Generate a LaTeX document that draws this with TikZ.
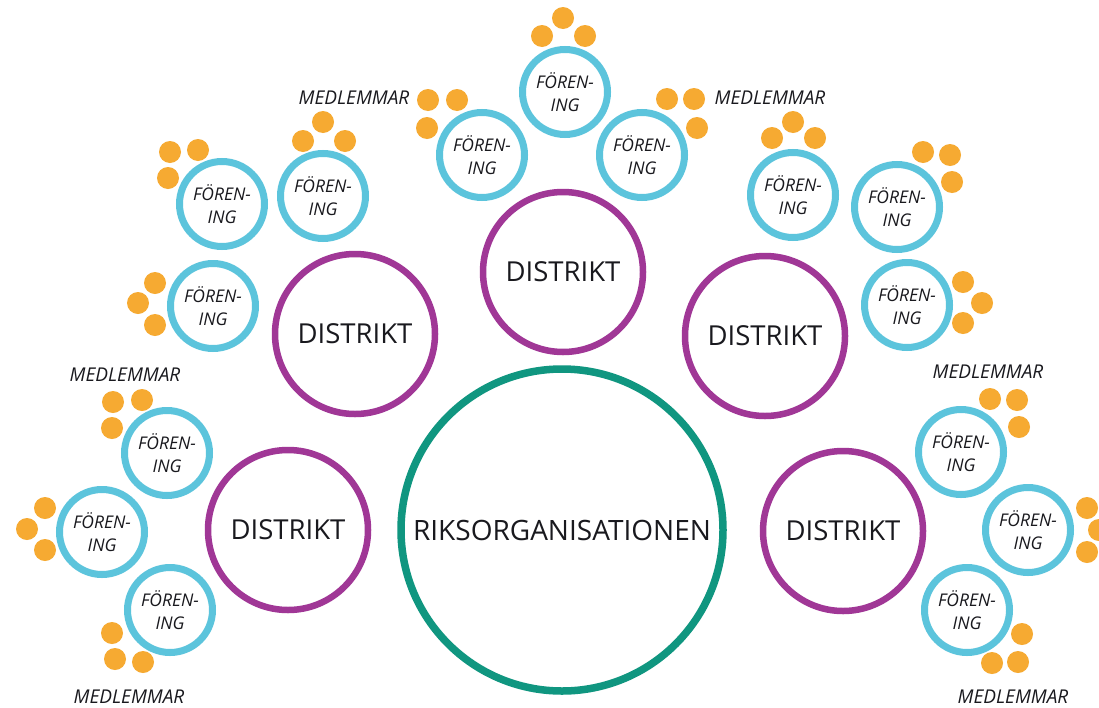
\documentclass[tikz,border=0pt]{standalone}
\usepackage{fontspec}
\setmainfont{Open Sans}
\definecolor{riksgreen}{RGB}{16,150,128}
\definecolor{distpurple}{RGB}{160,55,150}
\definecolor{forcyan}{RGB}{92,196,220}
\definecolor{memorange}{RGB}{246,170,50}
\definecolor{txt}{RGB}{25,25,30}
\tikzset{
  riks/.style={circle,draw=riksgreen,line width=7.5pt,minimum size=322pt,inner sep=0pt,text=txt,font=\fontsize{28}{30}\selectfont},
  dist/.style={circle,draw=distpurple,line width=6.5pt,minimum size=160pt,inner sep=0pt,text=txt,font=\fontsize{27.5}{30}\selectfont},
  fbox/.style={circle,draw=forcyan,line width=7pt,minimum size=85pt,inner sep=0pt,text=txt,align=center,font=\fontsize{17.5}{23}\selectfont\itshape},
  mdot/.style={circle,fill=memorange,minimum size=22pt,inner sep=0pt},
  mlabel/.style={text=txt,inner sep=0pt,font=\fontsize{19}{22}\selectfont\itshape}
}
\begin{document}
\begin{tikzpicture}[x=1pt,y=-1pt]
\useasboundingbox[fill=white] (0,0) rectangle (1099,707);
% national organisation
\node[riks] (riks) at (562,530) {RIKSORGANISATIONEN};
% districts
\node[dist] (d1) at (288,530) {DISTRIKT};
\node[dist] (d2) at (355,334) {DISTRIKT};
\node[dist] (d3) at (563,272) {DISTRIKT};
\node[dist] (d4) at (765,336) {DISTRIKT};
\node[dist] (d5) at (843,531) {DISTRIKT};
% associations
\newcommand{\forening}[2]{\node[fbox] (#1) at (#2) {FÖREN-\\ING};}
\forening{f1}{167,453}
\forening{f2}{102,532}
\forening{f3}{170,610}
\forening{f4}{213,306}
\forening{f5}{222,204}
\forening{f6}{323,196}
\forening{f7}{482,155}
\forening{f8}{565,92}
\forening{f9}{642,155}
\forening{f10}{793,195}
\forening{f11}{897,207}
\forening{f12}{907,305}
\forening{f13}{961,452}
\forening{f14}{1028,530}
\forening{f15}{967,610}
% members
\newcommand{\mdots}[4]{\node[mdot] (#1a) at (#2) {};\node[mdot] (#1b) at (#3) {};\node[mdot] (#1c) at (#4) {};}
\mdots{m1}{113,402}{142,400}{112,428}
\mdots{m2}{45,508}{27,529}{45,550}
\mdots{m3}{112,633}{115,659}{143,662}
\mdots{m4}{155,283}{138,303}{155,325}
\mdots{m5}{170,152}{198,150}{168,178}
\mdots{m6}{323,122}{303,141}{345,141}
\mdots{m7}{428,100}{457,100}{427,128}
\mdots{m8}{563,18}{542,36}{585,36}
\mdots{m9}{667,99}{694,99}{697,128}
\mdots{m10}{793,122}{772,138}{815,138}
\mdots{m11}{923,152}{950,155}{952,182}
\mdots{m12}{963,282}{982,303}{963,323}
\mdots{m13}{990,399}{1017,400}{1019,427}
\mdots{m14}{1087,508}{1099,530}{1087,552}
\mdots{m15}{1022,634}{1018,662}{992,663}
% labels
\node[mlabel] (l1) at (354,98) {MEDLEMMAR};
\node[mlabel] (l2) at (770,98) {MEDLEMMAR};
\node[mlabel] (l3) at (125,375) {MEDLEMMAR};
\node[mlabel,anchor=base] (l4) at (129,703) {MEDLEMMAR};
\node[mlabel] (l5) at (988,372) {MEDLEMMAR};
\node[mlabel,anchor=base] (l6) at (1013,703) {MEDLEMMAR};
\end{tikzpicture}
\end{document}
